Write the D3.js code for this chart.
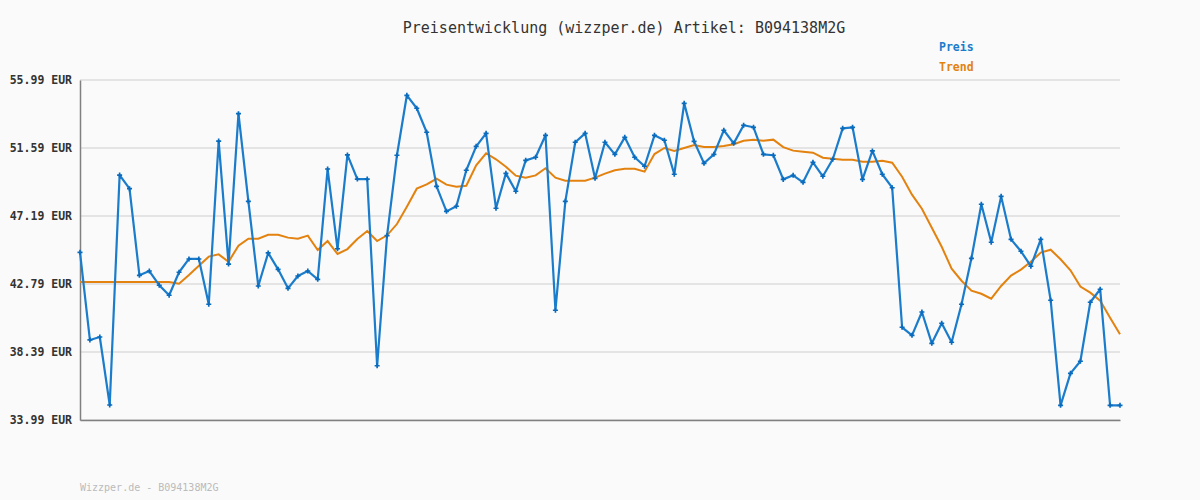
<!DOCTYPE html>
<html><head><meta charset="utf-8">
<script src="https://cdn.jsdelivr.net/npm/d3@7"></script>
<style>
html,body{margin:0;padding:0;background:#fafafa;}
svg{display:block;}
</style></head>
<body>
<svg id="chart" width="1200" height="500"></svg>
<script>
const titleText = "Preisentwicklung (wizzper.de) Artikel: B094138M2G";
const footerText = "Wizzper.de - B094138M2G";
const seriesNames = ["Preis", "Trend"];
const yTicks = [33.99, 38.39, 42.79, 47.19, 51.59, 55.99];
const preis = [44.84,39.17,39.36,34.96,49.84,48.96,43.35,43.63,42.71,42.06,
43.55,44.41,44.41,41.48,52.04,44.08,53.81,48.14,42.66,44.80,
43.74,42.51,43.31,43.63,43.09,50.23,45.07,51.14,49.58,49.58,
37.50,45.92,51.12,55.00,54.16,52.61,49.11,47.49,47.82,50.15,
51.70,52.54,47.69,49.95,48.79,50.79,50.99,52.41,41.09,48.14,
51.96,52.54,49.63,51.96,51.18,52.28,50.99,50.41,52.41,52.09,
49.89,54.48,52.02,50.60,51.18,52.74,51.89,53.06,52.93,51.18,
51.12,49.56,49.82,49.37,50.66,49.76,50.86,52.86,52.93,49.56,
51.40,49.89,49.02,39.99,39.47,40.98,38.95,40.25,39.02,41.48,
44.45,47.95,45.49,48.46,45.68,44.91,43.94,45.68,41.74,34.94,
37.01,37.79,41.61,42.45,34.94,34.94];
const trend = [42.92,42.92,42.92,42.92,42.92,42.92,42.92,42.92,42.92,42.92,
42.81,43.37,43.97,44.56,44.71,44.23,45.27,45.72,45.72,45.98,
45.98,45.79,45.72,45.92,44.99,45.57,44.73,45.05,45.70,46.22,
45.57,45.94,46.67,47.79,48.96,49.24,49.60,49.22,49.09,49.15,
50.47,51.25,50.86,50.38,49.80,49.67,49.82,50.28,49.67,49.47,
49.47,49.47,49.67,49.93,50.15,50.25,50.25,50.06,51.20,51.59,
51.40,51.59,51.78,51.65,51.65,51.72,51.83,52.06,52.13,52.06,
52.13,51.65,51.42,51.35,51.29,50.96,50.90,50.83,50.83,50.70,
50.70,50.77,50.64,49.73,48.57,47.66,46.43,45.20,43.78,43.00,
42.36,42.16,41.84,42.66,43.33,43.72,44.23,44.82,45.01,44.39,
43.68,42.62,42.23,41.71,40.61,39.54];
const colors = {preis: "#1a7ccb", trend: "#e3820f"};

const svg = d3.select("#chart");
const font = "'DejaVu Sans Mono', 'Liberation Mono', monospace";
const x = d3.scaleLinear().domain([0, preis.length - 1]).range([80, 1120]);
const y = d3.scaleLinear().domain([33.99, 55.99]).range([420, 80]);

// gridlines
svg.append("g").selectAll("line").data(yTicks).join("line")
  .attr("x1", 80).attr("x2", 1120)
  .attr("y1", d => y(d)).attr("y2", d => y(d))
  .attr("stroke", "#e4e4e4").attr("stroke-width", 2);

// axes
const yAxis = d3.axisLeft(y).tickValues(yTicks).tickSize(0).tickPadding(8)
  .tickFormat(d => d.toFixed(2) + " EUR");
const gy = svg.append("g").attr("transform", "translate(80,0)").call(yAxis);
gy.select(".domain").attr("stroke", "#808080").attr("stroke-width", 1.5);
gy.selectAll("text").attr("font-family", font).attr("font-size", "11.5px")
  .attr("font-weight", "bold").attr("fill", "#333");

const xAxis = d3.axisBottom(x).tickValues([]).tickSize(0).tickSizeOuter(0);
const gx = svg.append("g").attr("transform", "translate(0,420)").call(xAxis);
gx.select(".domain").attr("stroke", "#808080").attr("stroke-width", 1.5);

// lines
const line = d3.line().x((d, i) => x(i)).y(d => y(d));
svg.append("path").datum(trend).attr("d", line)
  .attr("fill", "none").attr("stroke", colors.trend).attr("stroke-width", 2);
svg.append("path").datum(preis).attr("d", line)
  .attr("fill", "none").attr("stroke", colors.preis).attr("stroke-width", 2.2)
  .attr("stroke-linejoin", "round");

// markers
const sym = d3.symbol().type(d3.symbolCross).size(14);
svg.append("g").selectAll("path").data(preis).join("path")
  .attr("d", sym)
  .attr("transform", (d, i) => `translate(${x(i)},${y(d)})`)
  .attr("fill", "#0a6bbd");

// title
svg.append("text").attr("x", 624).attr("y", 33).attr("text-anchor", "middle")
  .attr("font-family", font).attr("font-size", "15px").attr("fill", "#333")
  .text(titleText);

// legend
svg.append("text").attr("x", 939).attr("y", 51).attr("font-family", font)
  .attr("font-size", "11.5px").attr("font-weight", "bold").attr("fill", colors.preis)
  .text(seriesNames[0]);
svg.append("text").attr("x", 939).attr("y", 71).attr("font-family", font)
  .attr("font-size", "11.5px").attr("font-weight", "bold").attr("fill", colors.trend)
  .text(seriesNames[1]);

// footer
svg.append("text").attr("x", 80).attr("y", 491).attr("font-family", font)
  .attr("font-size", "10px").attr("fill", "#bbb").text(footerText);
</script>
</body></html>
